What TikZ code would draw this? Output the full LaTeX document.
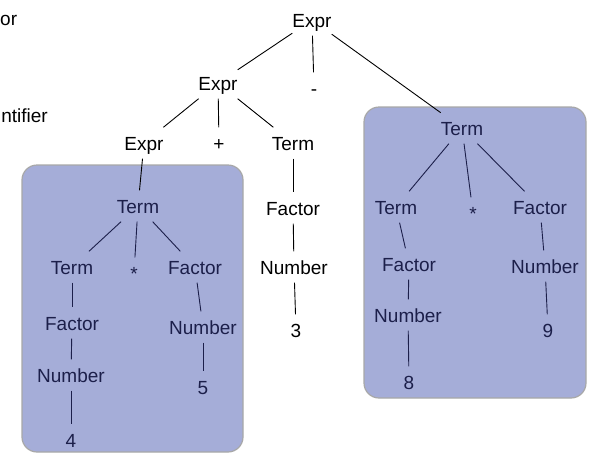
\documentclass[tikz,border=0pt]{standalone}
\usepackage{fontspec}
\setmainfont{Liberation Sans}
\definecolor{inktext}{HTML}{1C1F4A}
\definecolor{boxblue}{HTML}{A5ADD8}
\definecolor{boxrim}{HTML}{A8A8A8}
\begin{document}
\begin{tikzpicture}[x=1pt,y=-1pt,
  every node/.style={font=\fontsize{19}{22}\selectfont},
  sym/.style={inner sep=0pt, text height=14pt, text depth=0pt,
              minimum height=31pt, minimum width=10pt},
  plainsym/.style={sym, text=black},
  boxsym/.style={sym, text=inktext},
  plainedge/.style={line width=0.9pt, black},
  boxedge/.style={line width=0.9pt, inktext},
  group/.style={fill=boxblue, draw=boxrim, line width=1.2pt, rounded corners=15pt}]
\useasboundingbox (0,0) rectangle (591,453);

% grammar text at the left edge
\node[anchor=base west, inner sep=0pt] (gram1) at (0,25) {or};
\node[anchor=base east, inner sep=0pt] (gram2) at (48,122) {ntifier};

% shaded sub-trees
\path[group] (22,165) rectangle (243,452);
\path[group] (364,107) rectangle (586,398);

% upper part of the parse tree
\node[plainsym] (e0) at (312,20) {Expr};
\node[plainsym] (e1) at (218,83) {Expr};
\node[plainsym] (minus) at (314,88) {-};
\node[plainsym] (e2) at (144,143) {Expr};
\node[plainsym] (plus) at (219,143) {+};
\node[plainsym] (tM) at (293,143) {Term};
\node[plainsym] (fM) at (293,208) {Factor};
\node[plainsym] (nM) at (294,267) {Number};
\node[plainsym] (three) at (296,330) {3};

% left sub-tree: Term * Factor
\node[boxsym] (tL) at (138,206) {Term};
\node[boxsym] (tLL) at (72,267) {Term};
\node[boxsym] (sL) at (134,273) {*};
\node[boxsym] (fLR) at (195,267) {Factor};
\node[boxsym] (fLL) at (72,323) {Factor};
\node[boxsym] (nLR) at (203,327) {Number};
\node[boxsym] (nLL) at (71,375) {Number};
\node[boxsym] (five) at (203,387) {5};
\node[boxsym] (four) at (71,440) {4};

% right sub-tree: Term * Factor
\node[boxsym] (tR) at (462,128) {Term};
\node[boxsym] (tRL) at (396,207) {Term};
\node[boxsym] (sR) at (473,213) {*};
\node[boxsym] (fRR) at (540,207) {Factor};
\node[boxsym] (fRL) at (409,264) {Factor};
\node[boxsym] (nRR) at (545,266) {Number};
\node[boxsym] (nRL) at (408,315) {Number};
\node[boxsym] (nine) at (548,330) {9};
\node[boxsym] (eight) at (409,382) {8};

% edges outside the shaded areas
\draw[plainedge] (e0) -- (e1);
\draw[plainedge] (e0) -- (minus);
\draw[plainedge] (e0) -- (tR);
\draw[plainedge] (e1) -- (e2);
\draw[plainedge] (e1) -- (plus);
\draw[plainedge] (e1) -- (tM);
\draw[plainedge] (e2) -- (tL);
\draw[plainedge] (tM) -- (fM);
\draw[plainedge] (fM) -- (nM);
\draw[plainedge] (nM) -- (three);

% edges inside the left shaded area
\draw[boxedge] (tL) -- (tLL);
\draw[boxedge] (tL) -- (sL);
\draw[boxedge] (tL) -- (fLR);
\draw[boxedge] (tLL) -- (fLL);
\draw[boxedge] (fLL) -- (nLL);
\draw[boxedge] (nLL) -- (four);
\draw[boxedge] (fLR) -- (nLR);
\draw[boxedge] (nLR) -- (five);

% edges inside the right shaded area
\draw[boxedge] (tR) -- (tRL);
\draw[boxedge] (tR) -- (sR);
\draw[boxedge] (tR) -- (fRR);
\draw[boxedge] (tRL) -- (fRL);
\draw[boxedge] (fRL) -- (nRL);
\draw[boxedge] (nRL) -- (eight);
\draw[boxedge] (fRR) -- (nRR);
\draw[boxedge] (nRR) -- (nine);
\end{tikzpicture}
\end{document}
